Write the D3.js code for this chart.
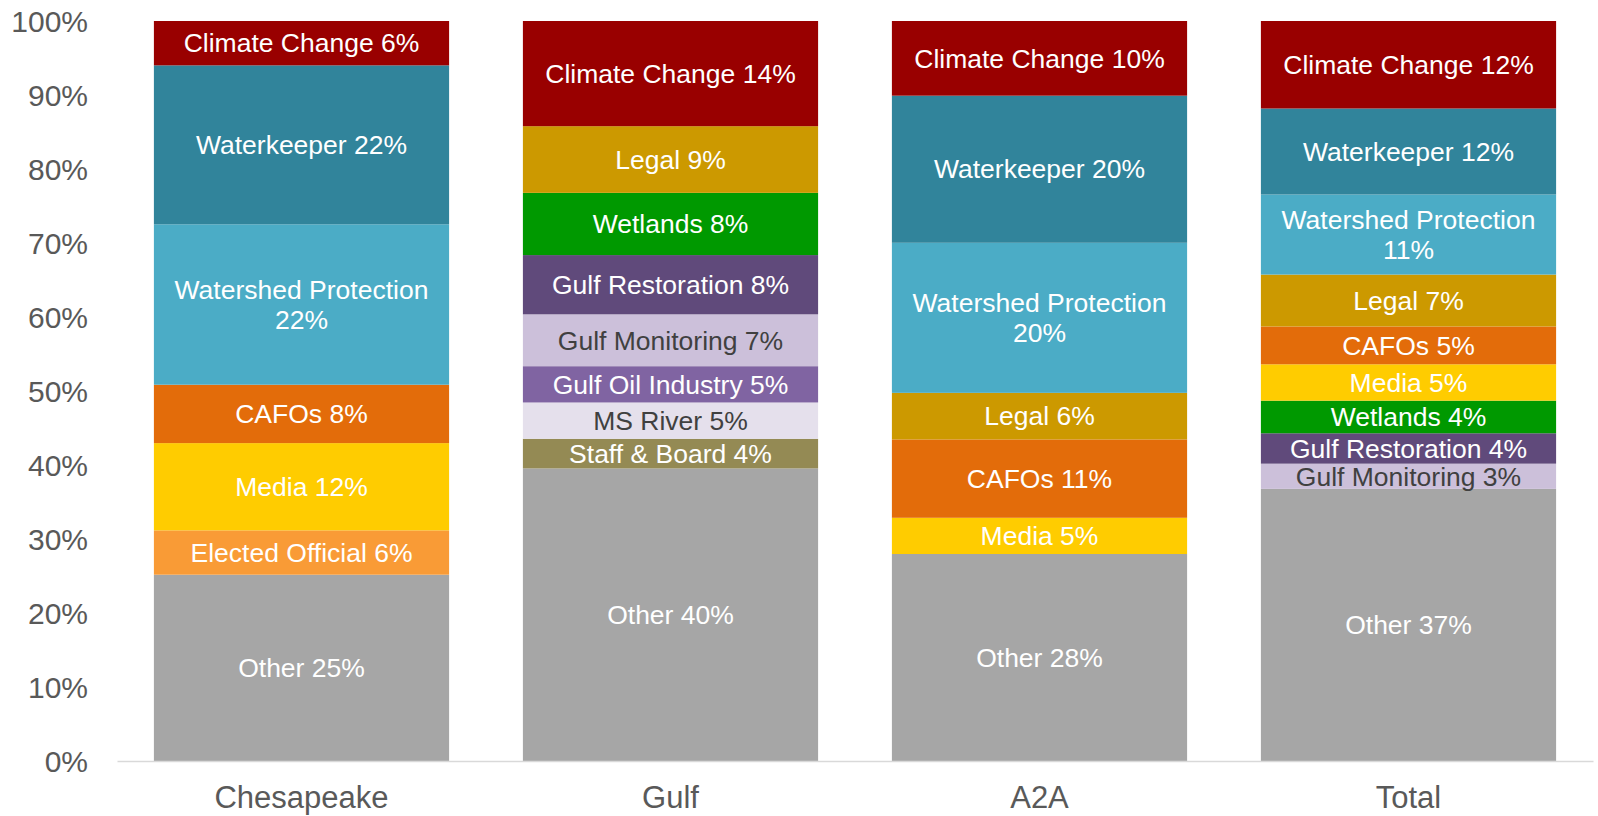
<!DOCTYPE html>
<html>
<head>
<meta charset="utf-8">
<script src="https://cdn.jsdelivr.net/npm/d3@7"></script>
<style>
  html, body { margin: 0; padding: 0; background: #fff; }
  svg { display: block; font-family: "Liberation Sans", Arial, sans-serif; }
</style>
</head>
<body>
<svg id="chart" width="1598" height="816"></svg>
<script>
// ---- Data (percent of each column) ----
const categories = ["Chesapeake", "Gulf", "A2A", "Total"];

// Series, listed bottom-to-top of the stack
const seriesNames = [
  "Other", "Staff & Board", "MS River", "Gulf Oil Industry", "Gulf Monitoring",
  "Gulf Restoration", "Wetlands", "Elected Official", "Media", "CAFOs",
  "Legal", "Watershed Protection", "Waterkeeper", "Climate Change"
];

const other               = [25.2, 39.5, 28.0, 36.7];
const staffBoard          = [0,    4.0,  0,    0];
const msRiver             = [0,    4.9,  0,    0];
const gulfOilIndustry     = [0,    4.9,  0,    0];
const gulfMonitoring      = [0,    7.0,  0,    3.4];
const gulfRestoration     = [0,    8.0,  0,    4.1];
const wetlands            = [0,    8.4,  0,    4.4];
const electedOfficial     = [6.0,  0,    0,    0];
const media               = [11.8, 0,    4.9,  4.9];
const cafos               = [7.9,  0,    10.6, 5.1];
const legal               = [0,    9.0,  6.3,  7.0];
const watershedProtection = [21.7, 0,    20.3, 10.8];
const waterkeeper         = [21.5, 0,    19.9, 11.6];
const climateChange       = [6.0,  14.2, 10.1, 11.8];

const seriesValues = [
  other, staffBoard, msRiver, gulfOilIndustry, gulfMonitoring,
  gulfRestoration, wetlands, electedOfficial, media, cafos,
  legal, watershedProtection, waterkeeper, climateChange
];

const colors = [
  "#A6A6A6", "#948A54", "#E5E0EC", "#8064A2", "#CCC0DA",
  "#604A7B", "#009900", "#F99B36", "#FFCC00", "#E36C0A",
  "#CC9900", "#4BACC6", "#31849B", "#990000"
];
const labelColors = [
  "#FFFFFF", "#FFFFFF", "#404040", "#FFFFFF", "#404040",
  "#FFFFFF", "#FFFFFF", "#FFFFFF", "#FFFFFF", "#FFFFFF",
  "#FFFFFF", "#FFFFFF", "#FFFFFF", "#FFFFFF"
];

const yTicks = [0, 0.1, 0.2, 0.3, 0.4, 0.5, 0.6, 0.7, 0.8, 0.9, 1.0];

// ---- Build table ----
const table = categories.map((c, i) => {
  const row = { category: c };
  seriesNames.forEach((s, j) => { row[s] = seriesValues[j][i]; });
  return row;
});

const stack = d3.stack().keys(seriesNames).offset(d3.stackOffsetExpand);
const stacked = stack(table);

// ---- Layout ----
const svg = d3.select("#chart");
const x0 = 117, x1 = 1593, yBottom = 761, yTop = 21;

const x = d3.scaleBand().domain(categories).range([x0, x1])
  .paddingInner(0.2).paddingOuter(0.1);
const y = d3.scaleLinear().domain([0, 1]).range([yBottom, yTop]);

// Y axis
const yAxis = d3.axisLeft(y).tickValues(yTicks).tickFormat(d3.format(".0%"))
  .tickSize(0).tickPadding(29);
const gy = svg.append("g").attr("transform", `translate(${x0},0)`).call(yAxis);
gy.select(".domain").remove();
gy.selectAll("text").attr("font-size", 30).attr("fill", "#595959")
  .attr("font-family", "'Liberation Sans', Arial, sans-serif").attr("dy", "0.34em");

// Bars
const layers = svg.append("g").selectAll("g").data(stacked).join("g")
  .attr("fill", (d, i) => colors[i]);

layers.selectAll("rect")
  .data(d => d.map(p => ({ p, key: d.key })))
  .join("rect")
  .filter(d => d.p[1] - d.p[0] > 0)
  .attr("x", d => x(d.p.data.category))
  .attr("width", x.bandwidth())
  .attr("y", d => y(d.p[1]))
  .attr("height", d => y(d.p[0]) - y(d.p[1]));

// X axis
const xAxis = d3.axisBottom(x).tickSize(0).tickSizeOuter(0).tickPadding(25);
const gx = svg.append("g").attr("transform", `translate(0,${yBottom})`).call(xAxis);
gx.select(".domain").attr("stroke", "#D9D9D9").attr("stroke-width", 1.5);
gx.selectAll("text").attr("font-size", 31).attr("fill", "#595959")
  .attr("font-family", "'Liberation Sans', Arial, sans-serif");

// Labels
const labelG = svg.append("g")
  .attr("font-family", "'Liberation Sans', Arial, sans-serif")
  .attr("font-size", 26.5)
  .attr("text-anchor", "middle");

stacked.forEach((layer, si) => {
  layer.forEach((p, ci) => {
    const raw = seriesValues[si][ci];
    if (!(p[1] - p[0] > 0)) return;
    const cx = x(p.data.category) + x.bandwidth() / 2;
    const cy = (y(p[0]) + y(p[1])) / 2;
    const full = `${seriesNames[si]} ${Math.round(raw)}%`;
    const t = labelG.append("text")
      .attr("x", cx).attr("y", cy).attr("dy", "0.35em")
      .attr("fill", labelColors[si]).text(full);
    if (t.node().getComputedTextLength() > x.bandwidth() - 8) {
      t.remove();
      const lines = [seriesNames[si], `${Math.round(raw)}%`];
      const lh = 30;
      lines.forEach((ln, k) => {
        labelG.append("text")
          .attr("x", cx).attr("y", cy + (k - (lines.length - 1) / 2) * lh)
          .attr("dy", "0.35em").attr("fill", labelColors[si]).text(ln);
      });
    }
  });
});
</script>
</body>
</html>
